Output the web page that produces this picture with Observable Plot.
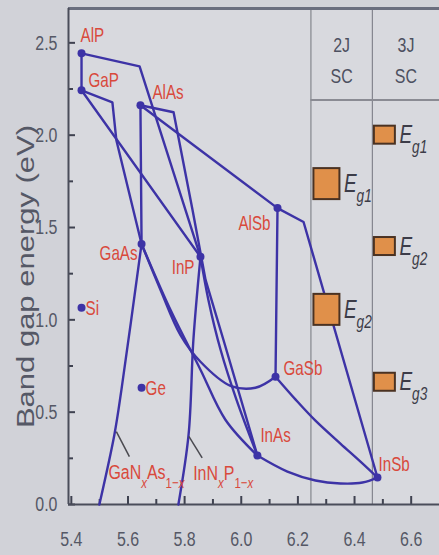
<!DOCTYPE html>
<html>
<head>
<meta charset="utf-8">
<script src="https://cdn.jsdelivr.net/npm/d3@7"></script>
<script src="https://cdn.jsdelivr.net/npm/@observablehq/plot@0.6"></script>
<style>
  html, body { margin: 0; padding: 0; background: #d1d2d8; }
  #chart { width: 439px; height: 555px; overflow: hidden; }
  svg { display: block; }
</style>
</head>
<body>
<div id="chart"></div>
<script>
// ---------- data ----------
const compounds   = ["AlP", "GaP", "AlAs", "GaAs", "InP", "AlSb", "GaSb", "InAs", "InSb", "Si", "Ge"];
const latticeA    = [5.436, 5.436, 5.644, 5.648, 5.856, 6.128, 6.121, 6.057, 6.481, 5.436, 5.648];
const bandGapEV   = [2.443, 2.243, 2.162, 1.411, 1.341, 1.605, 0.692, 0.265, 0.146, 1.065, 0.632];

// alloy lines (names refer to the compounds above, pairs are [lattice constant, band gap])
const AlP_GaP   = ["AlP", "GaP"];
const AlP_InP   = ["AlP", [5.641, 2.373], "InP"];
const GaP_InP   = ["GaP", "InP"];
const GaP_GaAs  = ["GaP", [5.545, 2.178], [5.559, 1.973], "GaAs"];
const AlAs_GaAs = ["AlAs", "GaAs"];
const AlAs_InAs = ["AlAs", [5.761, 2.124], [5.828, 1.595], [5.874, 1.216], [5.937, 0.892], "InAs"];
const AlAs_AlSb = ["AlAs", "AlSb"];
const AlSb_GaSb = ["AlSb", "GaSb"];
const AlSb_InSb = ["AlSb", [6.220, 1.530], "InSb"];

const InP_InAs  = ["InP", [5.884, 1.108], [5.927, 0.838], [5.983, 0.568], "InAs"];
const GaAs_InAs = ["GaAs", [5.750, 1.054], [5.856, 0.730], [5.944, 0.459], "InAs"];
const GaAs_GaSb = ["GaAs", [5.715, 1.162], [5.785, 0.919], [5.856, 0.773], [5.962, 0.643], [6.050, 0.632], "GaSb"];
const InAs_InSb = ["InAs", [6.163, 0.178], [6.262, 0.130], [6.350, 0.114], [6.428, 0.119], "InSb"];
const GaSb_InSb = ["GaSb", [6.192, 0.568], [6.262, 0.454], [6.350, 0.330], [6.421, 0.232], "InSb"];
const GaNAs     = ["GaAs", [5.577, 0.622], [5.552, 0.378], [5.499, 0.0]];
const InNP      = ["InP", [5.831, 0.892], [5.814, 0.378], [5.778, 0.0]];

const alloyLabels   = ["GaN_{x}As_{1−x}", "InN_{x}P_{1−x}"];
const alloyLeaderA  = [[5.559, 0.395], [5.815, 0.369]];
const alloyLeaderB  = [[5.605, 0.259], [5.862, 0.253]];

// multi-junction solar cell target band gaps
const cellNames     = ["2J\nSC", "3J\nSC"];
const cellEdges     = [6.246, 6.463];
const cellHeaderEV  = 2.19;
const junctionCell  = ["2J", "2J", "3J", "3J", "3J"];
const junctionLabel = ["E_{g1}", "E_{g2}", "E_{g1}", "E_{g2}", "E_{g3}"];
const junctionEV    = [1.735, 1.054, 2.0, 1.397, 0.662];

// axes
const xTicks      = [5.4, 5.6, 5.8, 6.0, 6.2, 6.4, 6.6];
const xMinorTicks = [5.5, 5.7, 5.9, 6.1, 6.3, 6.5];
const yTicks      = [0, 0.5, 1.0, 1.5, 2.0, 2.5];
const yMinorTicks = [0.25, 0.75, 1.25, 1.75, 2.25];
const yTitle      = "Band gap energy (eV)";

// ---------- build ----------
const X0 = 5.39, X1 = 6.70, Y0 = 0, Y1 = 2.686;
const pt = Object.fromEntries(compounds.map((c, i) => [c, [latticeA[i], bandGapEV[i]]]));
const toRows = (name, arr) => arr.map(p => {
  const [a, e] = typeof p === "string" ? pt[p] : p;
  return {name, a, e};
});
const straight = [
  ["AlP_GaP", AlP_GaP], ["AlP_InP", AlP_InP], ["GaP_InP", GaP_InP], ["GaP_GaAs", GaP_GaAs],
  ["AlAs_GaAs", AlAs_GaAs], ["AlAs_InAs", AlAs_InAs], ["AlAs_AlSb", AlAs_AlSb],
  ["AlSb_GaSb", AlSb_GaSb], ["AlSb_InSb", AlSb_InSb]
].flatMap(([n, arr]) => toRows(n, arr));
const bowed = [
  ["InP_InAs", InP_InAs], ["GaAs_InAs", GaAs_InAs], ["GaAs_GaSb", GaAs_GaSb],
  ["InAs_InSb", InAs_InSb], ["GaSb_InSb", GaSb_InSb], ["GaNAs", GaNAs], ["InNP", InNP]
].flatMap(([n, arr]) => toRows(n, arr));

const points = compounds.map((c, i) => ({c, a: latticeA[i], e: bandGapEV[i]}));
// label placement (pixels relative to the dot)
const labelPos = {
  AlP:  {dx: -1, dy: -18, anchor: "start"},
  GaP:  {dx: 7,  dy: -10, anchor: "start"},
  AlAs: {dx: 12, dy: -13, anchor: "start"},
  GaAs: {dx: -4, dy: 10,  anchor: "end"},
  InP:  {dx: -6, dy: 11,  anchor: "end"},
  AlSb: {dx: -7, dy: 15,  anchor: "end"},
  GaSb: {dx: 8,  dy: -8,  anchor: "start"},
  InAs: {dx: 3,  dy: -20, anchor: "start"},
  InSb: {dx: 1,  dy: -13, anchor: "start"},
  Si:   {dx: 4,  dy: 1,   anchor: "start"},
  Ge:   {dx: 4,  dy: 1,   anchor: "start"}
};
const alloyLabelPos = [{dx: -21, dy: 16}, {dx: -9, dy: 15}];
const leaders = alloyLabels.map((t, i) => ({t, a1: alloyLeaderA[i][0], e1: alloyLeaderA[i][1], a2: alloyLeaderB[i][0], e2: alloyLeaderB[i][1]}));

const pxPerA = 371 / (X1 - X0), pxPerE = 496 / (Y1 - Y0);
const cellColX = [(cellEdges[0] + cellEdges[1]) / 2, (cellEdges[1] + X1) / 2];
const boxSize = {"2J": [26, 31], "3J": [21, 18]};
const boxGap = {"2J": 3, "3J": 2};
const boxes = junctionCell.map((cell, i) => {
  const k = cell === "2J" ? 0 : 1;
  const [w, h] = boxSize[cell];
  const x1 = cellEdges[k] + boxGap[cell] / pxPerA;
  return {cell, label: junctionLabel[i], x1, x2: x1 + w / pxPerA, y1: junctionEV[i] - h / 2 / pxPerE, y2: junctionEV[i] + h / 2 / pxPerE, e: junctionEV[i]};
});

const BLUE = "#3d33a6", RED = "#d9493c", GREY = "#555866";
const FONT = "'Liberation Sans', Arial, Helvetica, sans-serif";

const chart = Plot.plot({
  width: 439, height: 555,
  marginLeft: 68, marginRight: 0, marginTop: 8, marginBottom: 51,
  x: {domain: [X0, X1], axis: null},
  y: {domain: [Y0, Y1], axis: null},
  style: {background: "transparent", fontFamily: FONT, overflow: "visible"},
  marks: [
    Plot.frame({fill: "#d8d9de", stroke: null}),
    // solar-cell columns
    Plot.ruleX(cellEdges, {stroke: "#85868e", strokeWidth: 1.2}),
    Plot.ruleY([cellHeaderEV], {x1: cellEdges[0], x2: X1, stroke: "#8a8b93", strokeWidth: 2}),
    Plot.text(cellNames, {x: (d, i) => cellColX[i], y: Y1, text: d => d, lineAnchor: "top", dy: 22, lineHeight: 1.45, fontSize: 21, fill: "#4d5060", stroke: null}),
    // axes
    Plot.axisX({ticks: xTicks, tickSize: 0, tickPadding: 27, tickFormat: d => d.toFixed(1), fontSize: 21, fill: GREY}),
    Plot.axisX({ticks: xTicks, text: null, tickSize: -8, stroke: "#3f4250", strokeWidth: 2}),
    Plot.axisX({ticks: xMinorTicks, text: null, tickSize: -5, stroke: "#3f4250", strokeWidth: 2}),
    Plot.axisY({ticks: yTicks, tickSize: 0, tickPadding: 11, tickFormat: d => d.toFixed(1), fontSize: 21, fill: GREY}),
    Plot.axisY({ticks: yTicks, text: null, tickSize: -7, stroke: "#3f4250", strokeWidth: 2}),
    Plot.axisY({ticks: yMinorTicks, text: null, tickSize: -5, stroke: "#3f4250", strokeWidth: 2}),
    Plot.text([yTitle], {frameAnchor: "left", text: d => d, rotate: -90, textAnchor: "middle", dx: -42, dy: 20, fontSize: 31, fill: GREY}),
    // frame lines
    Plot.ruleY([Y0], {stroke: "#4a4d5a", strokeWidth: 2}),
    Plot.ruleY([Y1], {stroke: "#6a6e7e", strokeWidth: 3}),
    Plot.ruleX([X0], {stroke: "#4a4d5a", strokeWidth: 2}),
    // alloy lines
    Plot.line(straight, {x: "a", y: "e", z: "name", stroke: BLUE, strokeWidth: 2.4}),
    Plot.line(bowed, {x: "a", y: "e", z: "name", stroke: BLUE, strokeWidth: 2.4, curve: "catmull-rom"}),
    // leader lines and alloy labels
    Plot.link(leaders, {x1: "a1", y1: "e1", x2: "a2", y2: "e2", stroke: "#4a4a50", strokeWidth: 1.5}),
    ...leaders.map((l, i) => Plot.text([l], {x: "a2", y: "e2", text: "t", textAnchor: "start", dx: alloyLabelPos[i].dx, dy: alloyLabelPos[i].dy, fontSize: 21, fill: RED})),
    // compounds
    Plot.dot(points, {x: "a", y: "e", r: 4, fill: BLUE}),
    ...points.map(p => Plot.text([p], {x: "a", y: "e", text: "c", fontSize: 20, fill: RED,
      dx: labelPos[p.c].dx, dy: labelPos[p.c].dy, textAnchor: labelPos[p.c].anchor})),
    // junction band gaps
    Plot.rect(boxes, {x1: "x1", x2: "x2", y1: "y1", y2: "y2", fill: "#e0904a", stroke: "#4a3222", strokeWidth: 2}),
    Plot.text(boxes, {x: "x2", y: "e", text: "label", textAnchor: "start", dx: 4, fontSize: 25, fontStyle: "italic", fill: "#3c3c48"})
  ]
});

// turn _{...} into subscripts; italic x in subscripts
const NS = "http://www.w3.org/2000/svg";
chart.querySelectorAll("text").forEach(t => {
  const txt = t.textContent;
  if (!txt.includes("_{")) return;
  t.textContent = "";
  txt.split(/(_\{[^}]*\})/).forEach(p => {
    if (!p) return;
    const ts = document.createElementNS(NS, "tspan");
    if (p.startsWith("_{")) {
      const body = p.slice(2, -1);
      ts.setAttribute("baseline-shift", "sub");
      ts.setAttribute("font-size", "72%");
      body.split(/(x)/).forEach(q => {
        if (!q) return;
        const s = document.createElementNS(NS, "tspan");
        s.textContent = q;
        if (q === "x") s.setAttribute("font-style", "italic");
        ts.appendChild(s);
      });
    } else {
      ts.textContent = p;
    }
    t.appendChild(ts);
  });
});
// the reference typography is tall and narrow: compress every text horizontally (screen x)
const SX = 0.76;
chart.querySelectorAll("text").forEach(t => {
  let tr = t.getAttribute("transform") || "";
  if (!tr) {
    const x = +(t.getAttribute("x") || 0), y = +(t.getAttribute("y") || 0);
    t.setAttribute("x", 0); t.setAttribute("y", 0);
    tr = `translate(${x},${y})`;
  }
  if (tr.includes("rotate")) tr = tr.replace(/rotate/, `scale(${SX},1) rotate`);
  else tr = `${tr} scale(${SX},1)`;
  t.setAttribute("transform", tr);
});
document.getElementById("chart").appendChild(chart);
</script>
</body>
</html>
